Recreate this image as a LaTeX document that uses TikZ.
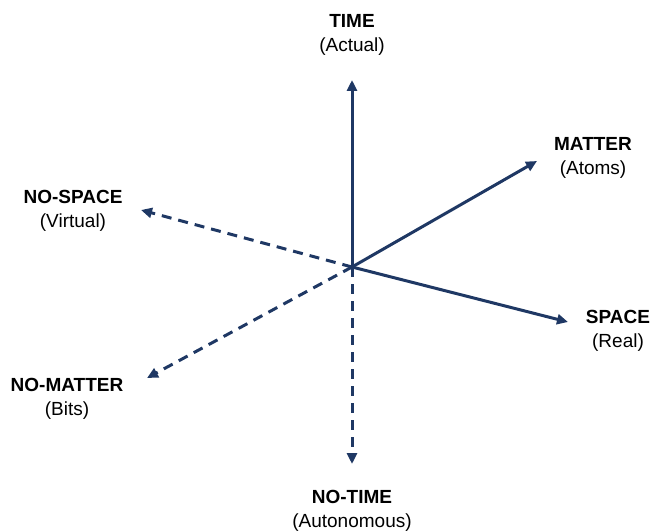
\documentclass[tikz,border=0pt]{standalone}
\usepackage{fontspec}
\setmainfont{Liberation Sans}
\usetikzlibrary{arrows.meta}
\definecolor{navy}{RGB}{31,56,100}
\begin{document}
\begin{tikzpicture}[x=1pt,y=-1pt,
  axis/.style={draw=navy,line width=3pt,-{Triangle[length=11pt,width=10pt]}},
  negaxis/.style={axis,dash pattern=on 10pt off 7pt},
  lbl/.style={inner sep=0pt,anchor=base,align=center,
    font=\fontsize{19pt}{24pt}\selectfont}]
\useasboundingbox (0,0) rectangle (653,532);
\coordinate (o) at (352,267);
\coordinate (t) at (352,80);
\coordinate (m) at (537,161);
\coordinate (s) at (568,322);
\coordinate (ns) at (141,210);
\coordinate (nm) at (147,378);
\coordinate (nt) at (352,464);
% labels: first line bold, second line regular (placed by the last baseline)
\node[lbl] (time) at (352,52) {\textbf{TIME}\\(Actual)};
\node[lbl] (matter) at (593,174) {\textbf{MATTER}\\(Atoms)};
\node[lbl] (space) at (618,347) {\textbf{SPACE}\\(Real)};
\node[lbl] (nospace) at (73,227) {\textbf{NO-SPACE}\\(Virtual)};
\node[lbl] (nomatter) at (67,415) {\textbf{NO-MATTER}\\(Bits)};
\node[lbl] (notime) at (352,527) {\textbf{NO-TIME}\\(Autonomous)};
% solid axes
\draw[axis] (o) -- (t);
\draw[axis] (o) -- (m);
\draw[axis] (o) -- (s);
% dashed axes
\draw[negaxis] (o) -- (ns);
\draw[negaxis] (o) -- (nm);
\draw[negaxis] (o) -- (nt);
\end{tikzpicture}
\end{document}
